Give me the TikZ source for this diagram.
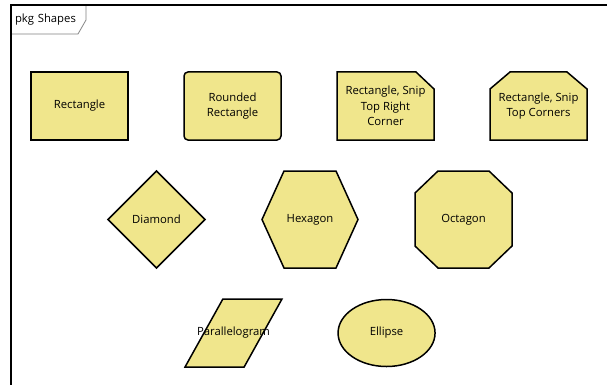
\documentclass[tikz,border=0pt]{standalone}
\usepackage{fontspec}
\setmainfont{Open Sans}
\usetikzlibrary{positioning,shapes.geometric,backgrounds}
\definecolor{khakifill}{RGB}{240,230,140}
\definecolor{tabgray}{RGB}{128,128,128}

\begin{document}
\begin{tikzpicture}[x=1pt, y=-1pt,
    font=\fontsize{11.3}{15.5}\selectfont,
    node distance=56pt,
    pkgshape/.style={draw=black, fill=khakifill, line width=1.5pt, align=center,
      minimum width=97pt, minimum height=68pt, inner sep=1pt, outer sep=0pt},
    pkgbox/.style={pkgshape, draw=none, fill=none},
    outline/.style={draw=black, fill=khakifill, line width=1.5pt, line join=miter}]
      \useasboundingbox (0,0) rectangle (607,385);
      % Define nodes
      \node[minimum width=75pt, minimum height=28.5pt, text width=67pt, align=left,
        inner xsep=4pt, inner ysep=0pt, outer sep=0pt] (tab) at (48.5,19.75) {pkg Shapes};
      \node[pkgshape] (rect) at (79.5,106) {Rectangle};
      \node[pkgshape, rounded corners=4pt, right=of rect] (round) {Rounded\\Rectangle};
      \node[pkgbox, right=of round] (snipone) {Rectangle, Snip\\Top Right\\Corner};
      \node[pkgbox, right=of snipone] (sniptwo) {Rectangle, Snip\\Top Corners};
      \node[pkgshape, diamond, minimum height=97pt, below=31pt of rect, xshift=77pt] (diam) {Diamond};
      \node[pkgbox, minimum width=96pt, minimum height=97pt, right=57pt of diam] (hex) {Hexagon};
      \node[pkgbox, minimum height=97pt, right=57pt of hex] (oct) {Octagon};
      \node[pkgshape, trapezium, trapezium left angle=75, trapezium right angle=105,
        trapezium stretches=true, below=31pt of diam, xshift=77pt] (para)
        {\makebox[0pt]{Parallelogram}};
      \node[pkgshape, ellipse, minimum height=67pt, right=75pt of para] (ell) {Ellipse};
      % Outlines behind the boxes
      \begin{pgfonlayer}{background}
        \draw[fill=white, draw=tabgray, line width=0.8pt] (tab.north west) -- (tab.north east)
          -- ([yshift=14pt]tab.south east) -- ([xshift=-8pt]tab.south east) -- (tab.south west) -- cycle;
        \draw[outline] (snipone.north west) -- ([xshift=-18pt]snipone.north east)
          -- ([yshift=-17pt]snipone.north east) -- (snipone.south east) -- (snipone.south west) -- cycle;
        \draw[outline] ([yshift=-17pt]sniptwo.north west) -- ([xshift=20pt]sniptwo.north west)
          -- ([xshift=-20pt]sniptwo.north east) -- ([yshift=-17pt]sniptwo.north east)
          -- (sniptwo.south east) -- (sniptwo.south west) -- cycle;
        \draw[outline] (hex.west) -- ([xshift=22pt]hex.north west) -- ([xshift=-22pt]hex.north east)
          -- (hex.east) -- ([xshift=-22pt]hex.south east) -- ([xshift=22pt]hex.south west) -- cycle;
        \draw[outline] ([yshift=-22pt]oct.north west) -- ([xshift=23pt]oct.north west)
          -- ([xshift=-23pt]oct.north east) -- ([yshift=-22pt]oct.north east)
          -- ([yshift=22pt]oct.south east) -- ([xshift=-23pt]oct.south east)
          -- ([xshift=23pt]oct.south west) -- ([yshift=22pt]oct.south west) -- cycle;
      \end{pgfonlayer}
      % Frame
      \draw[line width=2pt] (11,385) |- (607,5.5);
    \end{tikzpicture}
\end{document}
